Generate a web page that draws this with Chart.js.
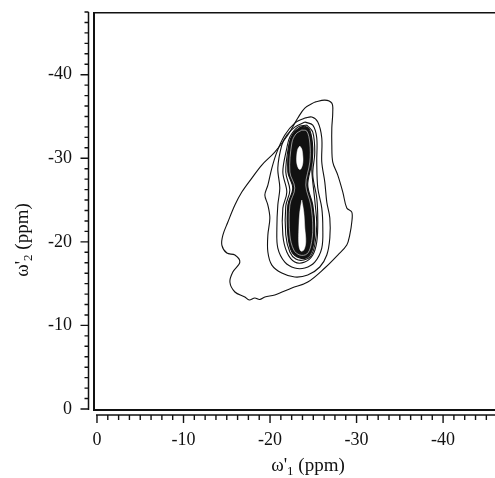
<!DOCTYPE html>
<html><head><meta charset="utf-8">
<script src="https://cdn.jsdelivr.net/npm/chart.js@4.4.0/dist/chart.umd.min.js"></script>
<style>html,body{margin:0;padding:0;background:#fff;}canvas{display:block;}</style>
</head><body>
<canvas id="c" width="495" height="478"></canvas>
<script>
// ---- data (ppm) ----
const xTickValues = [0, -10, -20, -30, -40];
const yTickValues = [0, -10, -20, -30, -40];
const minorStep = 1.25;
const xTitle = ["ω'", "1", " (ppm)"];
const yTitle = ["ω'", "2", " (ppm)"];

const contourOuter = [[-25.17,-36.72],[-26.33,-36.96],[-27.14,-36.60],[-27.25,-35.53],[-27.14,-33.61],[-27.14,-31.58],[-27.25,-29.55],[-27.83,-27.99],[-28.41,-25.96],[-28.87,-24.04],[-29.45,-23.56],[-29.45,-22.37],[-29.21,-20.81],[-28.87,-19.62],[-27.83,-18.42],[-26.33,-16.87],[-24.36,-15.19],[-22.52,-14.47],[-20.55,-13.64],[-19.40,-13.40],[-18.80,-13.10],[-18.24,-13.28],[-17.60,-13.05],[-17.09,-13.40],[-15.94,-14.00],[-15.36,-15.19],[-15.70,-16.39],[-16.51,-17.58],[-15.94,-18.42],[-15.01,-18.66],[-14.43,-19.62],[-14.55,-20.81],[-15.13,-22.37],[-15.94,-24.40],[-16.74,-25.96],[-17.90,-27.63],[-19.05,-29.19],[-20.55,-30.74],[-22.06,-32.78],[-23.21,-34.81],[-24.02,-36.00],[-25.17,-36.72]];
const contour2 = [[-24.02,-34.81],[-24.83,-34.93],[-25.52,-34.33],[-25.98,-32.42],[-25.98,-29.55],[-26.33,-27.15],[-26.56,-24.76],[-26.91,-22.85],[-26.91,-20.45],[-26.56,-18.42],[-25.75,-16.99],[-24.36,-16.03],[-22.86,-15.79],[-21.36,-16.27],[-20.21,-17.22],[-19.75,-18.78],[-19.75,-20.81],[-19.98,-22.85],[-19.75,-24.40],[-19.40,-25.60],[-19.75,-26.79],[-20.21,-28.83],[-20.79,-30.74],[-21.71,-32.78],[-22.86,-34.21],[-24.02,-34.81]];
const contour3 = [[-24.02,-34.33],[-24.94,-33.97],[-25.40,-32.42],[-25.40,-29.55],[-25.52,-26.44],[-25.98,-24.04],[-26.10,-21.65],[-25.98,-19.26],[-25.17,-17.58],[-24.02,-16.87],[-22.86,-16.87],[-21.71,-17.58],[-20.90,-19.26],[-20.79,-21.65],[-20.90,-24.40],[-21.13,-26.44],[-20.90,-28.83],[-21.36,-31.58],[-21.94,-32.78],[-22.86,-33.73],[-24.02,-34.33]];
const contour4 = [[-24.25,-33.97],[-24.94,-33.13],[-25.17,-30.74],[-24.94,-27.99],[-25.40,-25.24],[-25.52,-22.37],[-25.40,-19.98],[-24.94,-18.42],[-24.02,-17.58],[-22.86,-17.58],[-21.94,-18.78],[-21.48,-20.81],[-21.48,-24.04],[-21.94,-25.96],[-21.48,-28.35],[-21.94,-31.22],[-22.29,-32.54],[-23.21,-33.73],[-24.25,-33.97]];
const contour5 = [[-24.02,-33.85],[-24.60,-33.37],[-24.94,-31.22],[-24.83,-28.59],[-25.17,-25.00],[-25.40,-22.01],[-25.17,-19.62],[-24.71,-18.30],[-23.90,-17.82],[-22.98,-17.94],[-22.29,-18.78],[-21.82,-20.81],[-21.82,-24.28],[-22.29,-26.20],[-21.82,-28.35],[-22.17,-31.58],[-22.63,-32.89],[-23.33,-33.61],[-24.02,-33.85]];
const coreShape = [[-23.67,-33.73],[-24.36,-33.61],[-24.83,-31.94],[-24.83,-29.55],[-24.36,-26.79],[-24.94,-24.40],[-25.17,-21.65],[-24.94,-19.26],[-24.36,-18.18],[-23.44,-18.06],[-22.52,-18.78],[-22.06,-20.81],[-22.06,-24.40],[-22.63,-26.44],[-22.06,-28.35],[-22.29,-31.94],[-22.86,-33.13],[-23.67,-33.73]];
const coreRing = [[-23.67,-33.37],[-24.25,-33.25],[-24.60,-31.82],[-24.60,-29.55],[-24.13,-26.79],[-24.71,-24.40],[-24.94,-21.65],[-24.71,-19.50],[-24.25,-18.54],[-23.44,-18.42],[-22.75,-19.02],[-22.29,-20.81],[-22.29,-24.40],[-22.86,-26.44],[-22.29,-28.35],[-22.52,-31.82],[-22.98,-32.89],[-23.67,-33.37]];
const holeUpper = [[-23.44,-31.46],[-23.67,-31.10],[-23.79,-30.26],[-23.79,-29.43],[-23.56,-28.71],[-23.33,-28.71],[-23.09,-29.43],[-23.09,-30.38],[-23.21,-31.10],[-23.44,-31.46]];
const holeLower = [[-23.67,-25.00],[-23.90,-23.56],[-24.02,-21.65],[-24.13,-19.98],[-23.90,-19.02],[-23.56,-18.90],[-23.33,-19.62],[-23.33,-21.65],[-23.44,-23.56],[-23.67,-25.00]];

// ---- chart ----
const pts = a => a.map(([x, y]) => ({x, y}));
const ink = '#111';
function ds(arr, o) {
  return Object.assign({data: pts(arr), showLine: true, pointRadius: 0, borderColor: ink,
    borderWidth: 1.1, tension: 0.35, fill: false}, o);
}
const SERIF = "'Liberation Serif', 'Times New Roman', serif";

function drawTitle(ctx, parts, cx, cy, rot) {
  ctx.save();
  ctx.translate(cx, cy);
  ctx.rotate(rot);
  const big = "19px " + SERIF, small = "13px " + SERIF;
  ctx.font = big; const w0 = ctx.measureText(parts[0]).width, w2 = ctx.measureText(parts[2]).width;
  ctx.font = small; const w1 = ctx.measureText(parts[1]).width;
  let x = -(w0 + w1 + w2) / 2;
  ctx.fillStyle = ink; ctx.textBaseline = 'alphabetic'; ctx.textAlign = 'left';
  ctx.font = big; ctx.fillText(parts[0], x, 6); x += w0;
  ctx.font = small; ctx.fillText(parts[1], x, 10); x += w1;
  ctx.font = big; ctx.fillText(parts[2], x, 6);
  ctx.restore();
}

const axesPlugin = {
  id: 'axesDraw',
  afterDraw(chart) {
    const {ctx, chartArea: a, scales: {x, y}} = chart;
    ctx.save();
    ctx.strokeStyle = ink;
    ctx.lineWidth = 2;
    ctx.beginPath();
    ctx.moveTo(a.left + 1, a.top); ctx.lineTo(a.left + 1, a.bottom); ctx.lineTo(a.right, a.bottom);
    ctx.stroke();
    ctx.lineWidth = 1.5;
    ctx.beginPath(); ctx.moveTo(a.left, a.top + 0.75); ctx.lineTo(a.right, a.top + 0.75); ctx.stroke();
    const tx = a.left - 4.5, ty = a.bottom + 5;
    ctx.beginPath(); ctx.moveTo(tx, a.top); ctx.lineTo(tx, y.getPixelForValue(0) + 1); ctx.stroke();
    ctx.beginPath(); ctx.moveTo(x.getPixelForValue(0) - 1, ty); ctx.lineTo(a.right, ty); ctx.stroke();
    ctx.lineWidth = 1.4;
    ctx.beginPath();
    for (let k = 0; ; k++) {
      const v = -k * minorStep; if (v < x.min) break;
      const p = x.getPixelForValue(v); const major = k % 8 === 0;
      ctx.moveTo(p, ty); ctx.lineTo(p, ty + (major ? 8 : 5));
    }
    for (let k = 0; ; k++) {
      const v = -k * minorStep; if (v < y.min) break;
      const p = y.getPixelForValue(v); const major = k % 8 === 0;
      ctx.moveTo(tx, p); ctx.lineTo(tx - (major ? 8 : 4), p);
    }
    ctx.stroke();
    ctx.restore();
    drawTitle(ctx, xTitle, 308, 465, 0);
    drawTitle(ctx, yTitle, 22, 240, -Math.PI / 2);
  }
};

new Chart(document.getElementById('c'), {
  type: 'scatter',
  data: {datasets: [
    ds(holeUpper, {borderColor: '#fff', borderWidth: 0.5, backgroundColor: '#fff', fill: 'shape', order: 0}),
    ds(holeLower, {borderColor: '#fff', borderWidth: 0.5, backgroundColor: '#fff', fill: 'shape', order: 0}),
    ds(coreRing, {borderColor: 'rgba(255,255,255,0.8)', borderWidth: 0.7, order: 1}),
    ds(coreShape, {backgroundColor: ink, fill: 'shape', order: 2}),
    ds(contour5, {order: 3}),
    ds(contour4, {order: 3}),
    ds(contour3, {order: 3}),
    ds(contour2, {order: 3}),
    ds(contourOuter, {order: 3})
  ]},
  options: {
    responsive: false, animation: false, devicePixelRatio: 1, events: [],
    layout: {padding: {top: 12, right: 0, bottom: 0, left: 0}},
    plugins: {legend: {display: false}, tooltip: {enabled: false}},
    scales: {
      x: {
        type: 'linear', position: 'bottom', min: -46, max: 0.46, reverse: true,
        grid: {display: false, drawTicks: false}, border: {display: false},
        afterBuildTicks: s => { s.ticks = xTickValues.map(v => ({value: v})); },
        afterFit: s => { s.height = 68; s.paddingLeft = 0; s.paddingRight = 0; },
        ticks: {padding: 19, color: ink, font: {family: SERIF, size: 18}, maxRotation: 0, autoSkip: false}
      },
      y: {
        type: 'linear', position: 'left', min: -47.5, max: 0.12, reverse: true,
        grid: {display: false, drawTicks: false}, border: {display: false},
        afterBuildTicks: s => { s.ticks = yTickValues.map(v => ({value: v})); },
        afterFit: s => { s.width = 93; s.paddingTop = 0; s.paddingBottom = 0; },
        ticks: {padding: 21, color: ink, font: {family: SERIF, size: 18}, autoSkip: false}
      }
    }
  },
  plugins: [axesPlugin]
});
</script>
</body></html>
